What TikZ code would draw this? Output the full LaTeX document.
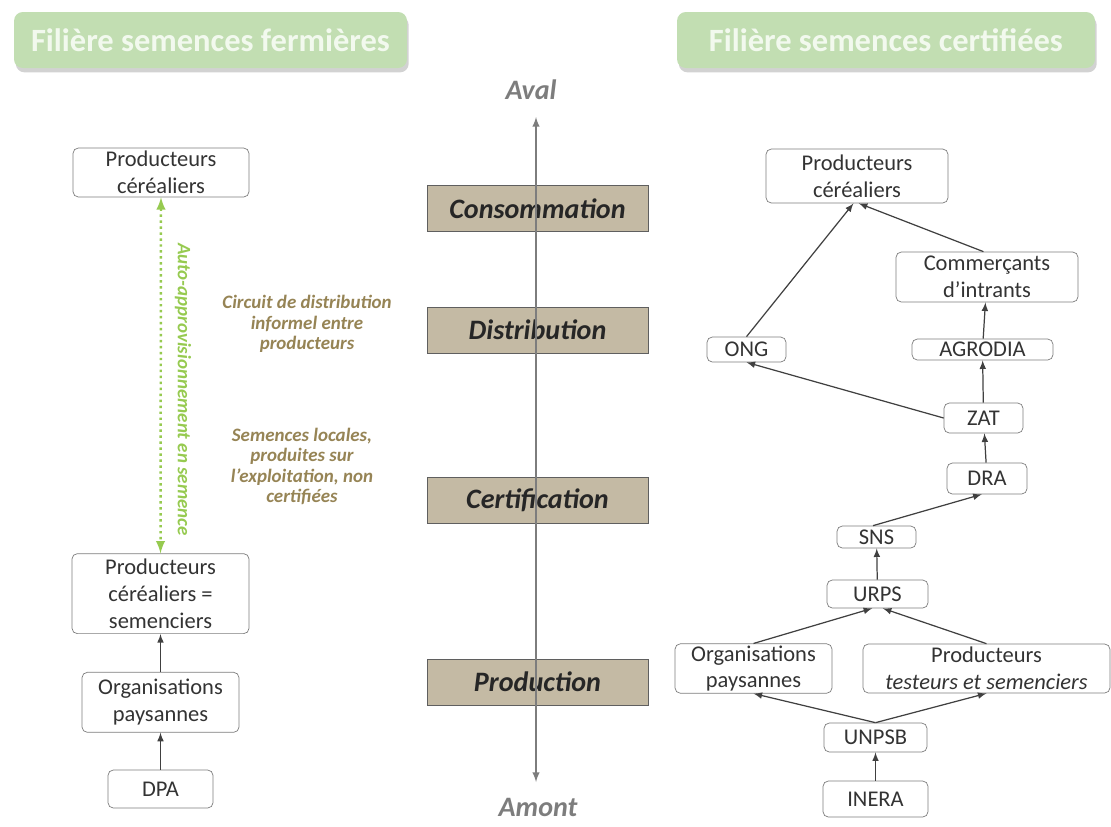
\documentclass[tikz,border=0pt]{standalone}
\usepackage{fontspec}
\setmainfont{Carlito}
\usepackage{tikz}
\usetikzlibrary{arrows, positioning, shadows}
\definecolor{titrevert}{RGB}{194,222,178}
\definecolor{titreblanc}{RGB}{242,249,238}
\definecolor{phasefond}{RGB}{196,186,164}
\definecolor{phasebord}{RGB}{95,95,95}
\definecolor{acteurbord}{RGB}{125,125,125}
\definecolor{olivetexte}{RGB}{150,132,85}
\definecolor{vertappro}{RGB}{150,202,80}
\definecolor{axegris}{RGB}{125,125,125}
\tikzset{
	titre/.style={
		rectangle,
		rounded corners=5pt,
		minimum height=1.12cm,
		fill=titrevert,
		text=titreblanc,
		font=\fontsize{18.5}{22}\selectfont\bfseries,
		drop shadow={shadow xshift=1pt, shadow yshift=-2.5pt, fill=black!35}
	},
	phase/.style={
		rectangle,
		minimum width=4.42cm,
		minimum height=0.92cm,
		draw=phasebord,
		fill=phasefond,
		text=black!85,
		font=\fontsize{16}{19}\selectfont\bfseries\itshape
	},
	acteur/.style={
		rectangle,
		rounded corners=3pt,
		draw=acteurbord,
		text=black!80,
		align=center,
		inner sep=1pt,
		font=\fontsize{12.8}{15.2}\selectfont
	},
	remarque/.style={
		align=center,
		text=olivetexte,
		font=\fontsize{10.8}{11.6}\selectfont\bfseries\itshape
	},
	repere/.style={
		text=axegris,
		font=\fontsize{16}{19}\selectfont\bfseries\itshape
	},
	fleche/.style={->,>=latex,line width=0.7pt,draw=black!75},
	axe/.style={latex-latex,line width=0.9pt,draw=axegris},
	appro/.style={latex-latex,dotted,line width=1.4pt,draw=vertappro}
}

\begin{document}
\begin{tikzpicture}[x=0.02cm,y=-0.02cm]
	\useasboundingbox (0,0) rectangle (1111,826);

	% titres
	\node (titreF) [titre, minimum width=7.86cm] at (210.5,40) {Filière semences fermières};
	\node (titreC) [titre, minimum width=8.36cm] at (886,40) {Filière semences certifiées};

	% axe aval / amont
	\coordinate (axehaut) at (536,117);
	\coordinate (axebas) at (536,782);
	\node (cons) [phase] at (537.5,208.5) {Consommation};
	\node (dist) [phase] at (537.5,330) {Distribution};
	\node (cert) [phase] at (537.5,500.5) {Certification};
	\node (prod) [phase] at (537.5,682) {Production};
	\node (aval) [repere] at (531,90) {Aval};
	\node (amont) [repere] at (538,807) {Amont};
	\draw [axe] (axebas) -- (axehaut);

	% semences fermieres
	\node (prodL) [acteur, minimum width=3.52cm, minimum height=0.98cm] at (161,172.5) {Producteurs\\céréaliers};
	\node (dpa) [acteur, minimum width=2.1cm, minimum height=0.76cm] at (160.5,789) {DPA};
	\node (orgL) [acteur, minimum width=3.14cm, minimum height=1.2cm, above=0.74cm of dpa] {Organisations\\paysannes};
	\node (semL) [acteur, minimum width=3.54cm, minimum height=1.6cm, above=0.76cm of orgL] {Producteurs\\céréaliers =\\semenciers};

	\draw [fleche] (dpa) -- (orgL);
	\draw [fleche] (orgL) -- (semL);
	\draw [appro] (prodL.south) -- node[midway, rotate=-90, anchor=south, xshift=8pt, yshift=4pt, text=vertappro, font=\fontsize{10.8}{12}\selectfont\bfseries\itshape] (autoappro) {Auto-approvisionnement en semence} (semL.north);

	\node (circuit) [remarque] at (307,324) {Circuit de distribution\\informel entre\\producteurs};
	\node (locales) [remarque] at (302,466.5) {Semences locales,\\produites sur\\l'exploitation, non\\certifiées};

	% semences certifiees
	\node (prodR) [acteur, minimum width=3.64cm, minimum height=1.08cm] at (857,176) {Producteurs\\céréaliers};
	\node (comm) [acteur, minimum width=3.64cm, minimum height=1.0cm] at (987,277) {Commerçants\\d’intrants};
	\node (ong) [acteur, minimum width=1.58cm, minimum height=0.5cm] at (746.5,349.5) {ONG};
	\node (agro) [acteur, minimum width=2.82cm, minimum height=0.42cm] at (982.5,349.5) {AGRODIA};
	\node (zat) [acteur, minimum width=1.58cm, minimum height=0.6cm] at (983.5,418) {ZAT};
	\node (dra) [acteur, minimum width=1.6cm, minimum height=0.62cm] at (987,478.5) {DRA};
	\node (sns) [acteur, minimum width=1.58cm, minimum height=0.44cm] at (876.5,537) {SNS};
	\node (urps) [acteur, minimum width=2.02cm, minimum height=0.56cm] at (877.5,594) {URPS};
	\node (orgR) [acteur, minimum width=3.14cm, minimum height=0.98cm] at (753.5,668.5) {Organisations\\paysannes};
	\node (prodT) [acteur, minimum width=4.94cm, minimum height=0.98cm] at (986.5,668.5) {Producteurs\\\textit{testeurs et semenciers}};
	\node (unpsb) [acteur, minimum width=2.06cm, minimum height=0.58cm] at (875.5,737.5) {UNPSB};
	\node (inera) [acteur, minimum width=2.1cm, minimum height=0.72cm] at (875.5,799) {INERA};

	\draw [fleche] (inera) -- (unpsb);
	\draw [fleche] (unpsb.north) -- (orgR.south);
	\draw [fleche] (unpsb.north) -- (prodT.south);
	\draw [fleche] (orgR.north) -- ([xshift=-3pt]urps.south);
	\draw [fleche] (prodT.north) -- ([xshift=3pt]urps.south);
	\draw [fleche] (urps) -- (sns);
	\draw [fleche] ([xshift=-2pt]sns.north) -- ([xshift=-3pt]dra.south);
	\draw [fleche] (dra) -- (zat);
	\draw [fleche] (zat) -- (agro);
	\draw [fleche] (agro) -- (comm);
	\draw [fleche] (zat.west) -- (ong.south);
	\draw [fleche] (ong.north) -- ([xshift=-2pt]prodR.south);
	\draw [fleche] ([xshift=-2pt]comm.north) -- ([xshift=1pt]prodR.south);
\end{tikzpicture}
\end{document}
